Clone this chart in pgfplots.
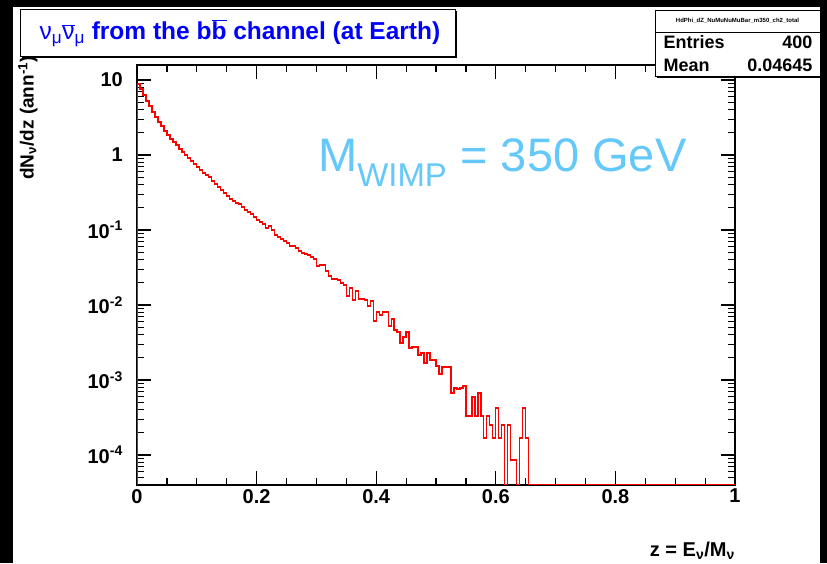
\documentclass[border=0pt]{standalone}
\usepackage{fontspec}
\setmainfont{Liberation Sans}
\usepackage{pgfplots}
\pgfplotsset{compat=1.18}
\definecolor{rootblue}{RGB}{0,0,255}
\definecolor{wimpblue}{RGB}{100,200,250}
\begin{document}
\begin{tikzpicture}[x=1pt,y=1pt]
\fill[black] (0,0) rectangle (827,563);
\fill[white] (13,0) rectangle (820,556);
\begin{axis}[
  at={(137pt,78pt)}, anchor=south west,
  width=598pt, height=420pt, scale only axis,
  xmin=0, xmax=1, ymin=3.98e-5, ymax=15.85, ymode=log,
  xtick={0,0.2,0.4,0.6,0.8,1},
  xticklabels={0,0.2,0.4,0.6,0.8,1},
  minor xtick={0.05,0.1,0.15,0.25,0.3,0.35,0.45,0.5,0.55,0.65,0.7,0.75,0.85,0.9,0.95},
  ytick={1e-4,1e-3,1e-2,1e-1,1,10},
  yticklabels={10\textsuperscript{-4},10\textsuperscript{-3},10\textsuperscript{-2},10\textsuperscript{-1},1,10},
  minor ytick={5e-5,6e-5,7e-5,8e-5,9e-5,2e-4,3e-4,4e-4,5e-4,6e-4,7e-4,8e-4,9e-4,2e-3,3e-3,4e-3,5e-3,6e-3,7e-3,8e-3,9e-3,2e-2,3e-2,4e-2,5e-2,6e-2,7e-2,8e-2,9e-2,0.2,0.3,0.4,0.5,0.6,0.7,0.8,0.9,2,3,4,5,6,7,8,9},
  tick pos=both, tick align=inside,
  major tick length=14pt, minor tick length=7pt,
  every tick/.style={black, line width=1.2pt},
  axis line style={line width=2.5pt},
  tick label style={font=\fontsize{20}{20}\selectfont\bfseries},
  yticklabel style={inner sep=0pt, xshift=-14pt},
  xticklabel style={inner sep=0pt, yshift=-4pt},
]
\addplot[const plot mark left, draw=red, line width=1.3pt] table {
x y
0.000 4.0e-5
0.000 8.84
0.005 7.59
0.010 6.31
0.015 5.25
0.020 4.50
0.025 3.74
0.030 3.21
0.035 2.75
0.040 2.44
0.045 2.09
0.050 1.85
0.055 1.63
0.060 1.49
0.065 1.36
0.070 1.20
0.075 1.10
0.080 1.00
0.085 0.912
0.090 0.832
0.095 0.759
0.100 0.692
0.105 0.631
0.110 0.575
0.115 0.541
0.120 0.509
0.125 0.450
0.130 0.411
0.135 0.375
0.140 0.341
0.145 0.311
0.150 0.284
0.155 0.259
0.160 0.244
0.165 0.229
0.170 0.222
0.175 0.203
0.180 0.185
0.185 0.174
0.190 0.163
0.195 0.149
0.200 0.136
0.205 0.128
0.210 0.120
0.215 0.106
0.220 0.113
0.225 0.100
0.230 0.0858
0.235 0.0807
0.240 0.0759
0.245 0.0713
0.250 0.0671
0.255 0.0612
0.260 0.0612
0.265 0.0575
0.270 0.0525
0.275 0.0494
0.280 0.0479
0.285 0.0464
0.290 0.0437
0.295 0.0411
0.300 0.0331
0.305 0.0341
0.310 0.0341
0.315 0.0284
0.320 0.0244
0.325 0.0222
0.330 0.0222
0.335 0.0215
0.340 0.0197
0.345 0.0185
0.350 0.0132
0.355 0.0169
0.360 0.0117
0.365 0.0154
0.370 0.0120
0.375 0.0120
0.380 0.0117
0.385 0.00970
0.390 0.0113
0.395 0.00612
0.400 0.00807
0.405 0.00736
0.410 0.00807
0.415 0.00807
0.420 0.00525
0.425 0.00651
0.430 0.00464
0.435 0.00437
0.440 0.00311
0.445 0.00374
0.450 0.00437
0.455 0.00267
0.460 0.00275
0.465 0.00275
0.470 0.00215
0.475 0.00229
0.480 0.00169
0.485 0.00229
0.490 0.00185
0.495 0.00185
0.500 0.00154
0.505 0.00120
0.510 0.00149
0.515 0.00149
0.520 0.00149
0.525 0.000671
0.530 0.000782
0.535 0.000759
0.540 0.000782
0.545 0.000832
0.550 0.000331
0.555 0.000331
0.560 0.000593
0.565 0.000331
0.570 0.000671
0.575 0.000331
0.580 0.000169
0.585 0.000331
0.590 0.000251
0.595 0.000169
0.600 0.000423
0.605 0.000169
0.610 0.000251
0.615 4.0e-5
0.620 0.000251
0.625 0.0000858
0.630 0.0000858
0.635 4.0e-5
0.640 0.000169
0.645 0.000423
0.650 0.000169
0.655 4.0e-5
1.000 4.0e-5
};
\end{axis}
% title box
\fill[black] (22,505) rectangle (457,552);
\filldraw[fill=white, draw=black, line width=0.8pt] (20,507) rectangle (455,554);
\node[anchor=center, text=rootblue, font=\fontsize{24.5}{24.5}\selectfont\bfseries] at (240,530)
  {{\mdseries ν\textsubscript{μ}$\overline{\hbox{ν}}$\textsubscript{μ}} from the b$\overline{\hbox{b}}$ channel (at Earth)};
% stats box
\fill[black] (657,485) rectangle (822,551);
\filldraw[fill=white, draw=black, line width=0.8pt] (655,487) rectangle (820,553);
\draw[line width=0.8pt] (655,531) -- (820,531);
\node[anchor=center, font=\fontsize{6}{6}\selectfont\bfseries] at (737.5,542) {HdPhi\_dZ\_NuMuNuMuBar\_m350\_ch2\_total};
\node[anchor=base west, font=\fontsize{18}{18}\selectfont\bfseries] at (660,514) {Entries};
\node[anchor=base east, font=\fontsize{18}{18}\selectfont\bfseries] at (816,514) {400};
\node[anchor=base west, font=\fontsize{18}{18}\selectfont\bfseries] at (660,491) {Mean};
\node[anchor=base east, font=\fontsize{18}{18}\selectfont\bfseries] at (816,491) {0.04645};
% M_WIMP annotation
\node[anchor=base west, inner sep=0pt, text=wimpblue, font=\fontsize{47}{47}\selectfont] at (318,391) {M\textsubscript{WIMP} = 350 GeV};
% axis titles
\node[rotate=90, anchor=east, inner sep=0pt, font=\fontsize{19}{19}\selectfont\bfseries] at (28,507) {dN\textsubscript{ν}/dz (ann\textsuperscript{-1})};
\node[anchor=base east, inner sep=0pt, font=\fontsize{20}{20}\selectfont\bfseries] at (735,7) {z = E\textsubscript{ν}/M\textsubscript{ν}};
\end{tikzpicture}
\end{document}
